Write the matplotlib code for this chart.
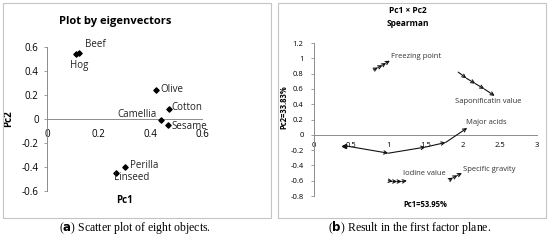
import matplotlib
matplotlib.use("Agg")
import matplotlib.pyplot as plt
from matplotlib.patches import Rectangle

plt.rcParams['font.family'] = ['Open Sans', 'DejaVu Sans']

# panel (a): objects on the first two eigenvectors
objects = ['Beef', 'Hog', 'Olive', 'Cotton', 'Camellia', 'Sesame', 'Perilla', 'Linseed']
obj_pc1 = [0.125, 0.111, 0.422, 0.471, 0.440, 0.470, 0.300, 0.266]
obj_pc2 = [0.550, 0.539, 0.243, 0.081, -0.011, -0.047, -0.402, -0.452]

# panel (b): variable trajectories in the first factor plane
variables = ['Freezing point', 'Saponificatin value', 'Major acids', 'Iodine value', 'Specific gravity']
var_x = [[0.80, 0.86, 0.92, 0.97, 1.02],
         [1.94, 2.05, 2.17, 2.29, 2.43],
         [0.40, 1.00, 1.50, 1.77, 2.06],
         [1.00, 1.06, 1.12, 1.18, 1.25],
         [1.82, 1.87, 1.93, 1.99]]
var_y = [[0.85, 0.88, 0.91, 0.94, 0.97],
         [0.82, 0.74, 0.67, 0.60, 0.51],
         [-0.14, -0.24, -0.16, -0.10, 0.09],
         [-0.60, -0.61, -0.61, -0.61, -0.60],
         [-0.59, -0.56, -0.53, -0.50]]

axis_col = '#8c8c8c'

fig = plt.figure(figsize=(5.5, 2.42), dpi=100)

# panel frames
for x0 in (0.0055, 0.5055):
    fig.patches.append(Rectangle((x0, 0.099), 0.4875, 0.889, transform=fig.transFigure,
                                 fill=False, edgecolor='#c4c4c4', lw=0.8))


def style_axes(ax, fs, ypad):
    for sp in ('top', 'right'):
        ax.spines[sp].set_visible(False)
    ax.spines['bottom'].set_position(('data', 0))
    for sp in ('left', 'bottom'):
        ax.spines[sp].set_color(axis_col)
        ax.spines[sp].set_linewidth(0.7)
    ax.tick_params(axis='y', labelsize=fs, color=axis_col, length=2.5, width=0.6, pad=ypad)
    ax.tick_params(axis='x', labelsize=fs, length=0, pad=7)
    ax.patch.set_alpha(0)


# ---- (a)
ax1 = fig.add_axes([0.0855, 0.2107, 0.2818, 0.595])
style_axes(ax1, 7, 3.5)
ax1.set_xlim(0, 0.6)
ax1.set_ylim(-0.6, 0.6)
ax1.set_xticks([0, 0.2, 0.4, 0.6])
ax1.set_xticklabels(['0', '0.2', '0.4', '0.6'])
ax1.set_yticks([-0.6, -0.4, -0.2, 0, 0.2, 0.4, 0.6])
ax1.set_yticklabels(['-0.6', '-0.4', '-0.2', '0', '0.2', '0.4', '0.6'])
ax1.scatter(obj_pc1, obj_pc2, marker='D', s=7, color='black', zorder=3, clip_on=False)
offsets = {'Beef': (4, 2, 'left', 'bottom'), 'Hog': (-4, -4, 'left', 'top'),
           'Olive': (3, 0, 'left', 'center'), 'Cotton': (2, 1, 'left', 'center'),
           'Camellia': (-3, 4, 'right', 'center'), 'Sesame': (2, -1, 'left', 'center'),
           'Perilla': (4, 1, 'left', 'center'), 'Linseed': (-1, -3, 'left', 'center')}
for name, x, y in zip(objects, obj_pc1, obj_pc2):
    dx, dy, ha, va = offsets[name]
    ax1.annotate(name, (x, y), xytext=(dx, dy), textcoords='offset points',
                 ha=ha, va=va, fontsize=7, color='#222222')
ax1.text(0.44, 1.18, 'Plot by eigenvectors', transform=ax1.transAxes,
         fontsize=8, fontweight='bold', ha='center', va='center')
ax1.set_xlabel('Pc1', fontsize=7, fontweight='bold')
ax1.xaxis.set_label_coords(0.503, -0.03)
ax1.set_ylabel('Pc2', fontsize=7, fontweight='bold')
ax1.yaxis.set_label_coords(-0.21, 0.5)

# ---- (b)
ax2 = fig.add_axes([0.5709, 0.190, 0.4055, 0.632])
style_axes(ax2, 5.5, 5)
ax2.set_xlim(0, 3)
ax2.set_ylim(-0.8, 1.2)
ax2.set_xticks([0, 0.5, 1, 1.5, 2, 2.5, 3])
ax2.set_xticklabels(['0', '0.5', '1', '1.5', '2', '2.5', '3'])
ax2.set_yticks([-0.8, -0.6, -0.4, -0.2, 0, 0.2, 0.4, 0.6, 0.8, 1, 1.2])
ax2.set_yticklabels(['-0.8', '-0.6', '-0.4', '-0.2', '0', '0.2', '0.4', '0.6', '0.8', '1', '1.2'])
ax2.tick_params(axis='x', pad=5)

for xs, ys in zip(var_x, var_y):
    for i in range(len(xs) - 1):
        ax2.annotate('', xy=(xs[i + 1], ys[i + 1]), xytext=(xs[i], ys[i]),
                     arrowprops=dict(arrowstyle='->', color='#111111', lw=0.8,
                                     shrinkA=0, shrinkB=0, mutation_scale=6))
ax2.plot(var_x[2][0], var_y[2][0], marker='<', ms=3, color='#111111')

label_pos = {'Freezing point': (1.04, 1.03), 'Saponificatin value': (1.90, 0.44),
             'Major acids': (2.05, 0.16), 'Iodine value': (1.20, -0.50),
             'Specific gravity': (2.00, -0.45)}
for name in variables:
    lx, ly = label_pos[name]
    ax2.text(lx, ly, name, fontsize=5.5, color='#333333', ha='left', va='center')

ax2.text(0.42, 1.17, 'Pc1 \u00d7 Pc2\nSpearman', transform=ax2.transAxes, fontsize=6,
         fontweight='bold', ha='center', va='center', linespacing=1.6)
ax2.set_xlabel('Pc1=53.95%', fontsize=5.5, fontweight='bold')
ax2.xaxis.set_label_coords(0.498, -0.025)
ax2.set_ylabel('Pc2=33.83%', fontsize=5.5, fontweight='bold')
ax2.yaxis.set_label_coords(-0.115, 0.58)

# captions
fig.text(0.245, 0.058, r'($\mathbf{a}$) Scatter plot of eight objects.', ha='center', va='center',
         fontsize=8.5, family='Liberation Serif')
fig.text(0.745, 0.058, r'($\mathbf{b}$) Result in the first factor plane.', ha='center', va='center',
         fontsize=8.5, family='Liberation Serif')

fig.savefig('out.png', dpi=100)
